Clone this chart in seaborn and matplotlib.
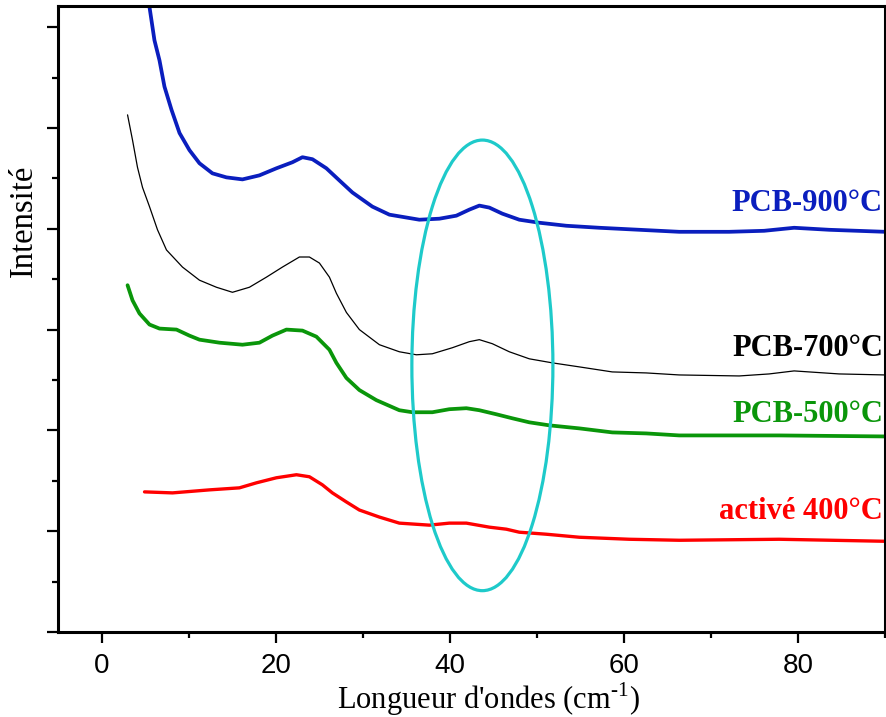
import numpy as np
import pandas as pd
import matplotlib
matplotlib.use("Agg")
import matplotlib.pyplot as plt
from matplotlib.patches import Ellipse
from matplotlib.ticker import MultipleLocator, NullFormatter
import seaborn as sns

# ---- data ----
x_900 = [5.21, 5.51, 6.08, 6.66, 7.23, 8.04, 8.96, 10.10, 11.25, 12.74, 14.35, 16.19,
         18.14, 20.09, 21.93, 23.08, 24.23, 25.83, 27.32, 28.82, 31.11, 33.07, 36.51,
         38.81, 40.76, 42.25, 43.40, 44.55, 46.04, 47.99, 50.29, 53.39, 57.18, 61.77,
         66.36, 72.10, 76.12, 79.56, 83.58, 90.0]
y_900 = [6.37, 6.20, 5.87, 5.67, 5.41, 5.18, 4.95, 4.78, 4.65, 4.55, 4.51, 4.49,
         4.53, 4.60, 4.66, 4.71, 4.69, 4.60, 4.48, 4.36, 4.22, 4.14, 4.09,
         4.10, 4.13, 4.19, 4.23, 4.21, 4.15, 4.09, 4.06, 4.03, 4.01, 3.99,
         3.97, 3.97, 3.98, 4.01, 3.99, 3.97]

x_700 = [2.99, 3.56, 4.13, 4.71, 5.51, 6.43, 7.46, 9.30, 11.25, 13.20, 15.04, 16.99,
         18.94, 20.78, 22.73, 23.88, 25.03, 26.18, 26.98, 28.13, 29.62, 31.92, 34.21,
         36.17, 38.00, 40.30, 42.25, 43.40, 44.89, 46.84, 49.14, 51.78, 54.88, 58.67,
         62.57, 66.36, 73.25, 76.69, 79.56, 84.73, 90.0]
y_700 = [5.13, 4.88, 4.61, 4.41, 4.22, 3.99, 3.79, 3.62, 3.49, 3.42, 3.37, 3.42,
         3.52, 3.62, 3.72, 3.72, 3.66, 3.52, 3.36, 3.17, 3.00, 2.85, 2.78,
         2.75, 2.76, 2.82, 2.88, 2.90, 2.86, 2.78, 2.71, 2.67, 2.63, 2.58,
         2.57, 2.55, 2.54, 2.56, 2.59, 2.56, 2.55]

x_500 = [2.99, 3.56, 4.36, 5.51, 6.66, 8.61, 10.10, 11.25, 13.55, 16.19, 18.14, 19.63,
         21.24, 23.08, 24.68, 26.18, 26.98, 28.13, 29.62, 31.57, 34.21, 35.71, 38.00,
         39.95, 41.91, 43.40, 45.35, 47.19, 49.14, 51.44, 54.88, 58.67, 62.57, 66.36,
         77.84, 90.0]
y_500 = [3.44, 3.29, 3.16, 3.05, 3.01, 3.00, 2.94, 2.90, 2.87, 2.85, 2.87, 2.94,
         3.00, 2.99, 2.93, 2.80, 2.67, 2.52, 2.40, 2.30, 2.20, 2.18, 2.18,
         2.21, 2.22, 2.20, 2.16, 2.12, 2.08, 2.05, 2.02, 1.98, 1.97, 1.95,
         1.95, 1.94]

x_400 = [4.94, 8.15, 12.40, 15.84, 17.80, 20.09, 22.39, 23.88, 25.37, 26.52, 28.13,
         29.62, 31.92, 34.21, 37.66, 39.95, 41.91, 44.55, 46.50, 47.99, 51.09, 54.88,
         60.62, 66.36, 77.84, 90.0]
y_400 = [1.39, 1.38, 1.41, 1.43, 1.48, 1.53, 1.56, 1.54, 1.46, 1.38, 1.29,
         1.21, 1.14, 1.08, 1.06, 1.08, 1.08, 1.04, 1.02, 0.99, 0.97, 0.94,
         0.92, 0.91, 0.92, 0.90]

series_names = ["PCB-900°C", "PCB-700°C", "PCB-500°C", "activé 400°C"]
series_x = [x_900, x_700, x_500, x_400]
series_y = [y_900, y_700, y_500, y_400]
series_colors = ["#0A1EBE", "#000000", "#0A960A", "#FF0000"]
series_lw = [2.7, 0.9, 2.7, 2.4]
label_y = [4.25, 2.81, 2.16, 1.20]

x_ticks = [0, 20, 40, 60, 80]

# ---- figure ----
sns.set_theme(style="white")
plt.rcParams["font.family"] = ["Liberation Serif", "DejaVu Serif"]
plt.rcParams["mathtext.fontset"] = "custom"
plt.rcParams["mathtext.rm"] = "Liberation Serif"
plt.rcParams["text.color"] = "black"
plt.rcParams["axes.labelcolor"] = "black"

fig = plt.figure(figsize=(8.86, 7.17), dpi=100)
ax = fig.add_axes([58 / 886, 1 - 632 / 717, 827 / 886, 626 / 717])

for name, xs, ys, c, lw in zip(series_names, series_x, series_y, series_colors, series_lw):
    df = pd.DataFrame({"x": xs, "y": ys})
    sns.lineplot(data=df, x="x", y="y", ax=ax, color=c, linewidth=lw,
                 estimator=None, sort=False, legend=False,
                 solid_joinstyle="round", solid_capstyle="round")

for name, c, ly in zip(series_names, series_colors, label_y):
    ax.text(89.75, ly, name, color=c, fontsize=22, fontweight="bold",
            ha="right", va="center", family=["Liberation Serif", "DejaVu Serif"])

ax.add_patch(Ellipse((43.75, 2.645), 16.2, 4.47, fill=False,
                     edgecolor="#1ECACA", linewidth=2.3, zorder=5))

ax.set_xlim(-5, 90)
ax.set_ylim(0, 6.21)
ax.set_xticks(x_ticks)
ax.xaxis.set_minor_locator(MultipleLocator(10))
ax.yaxis.set_major_locator(MultipleLocator(1))
ax.yaxis.set_minor_locator(MultipleLocator(0.5))
ax.yaxis.set_major_formatter(NullFormatter())

for sp in ax.spines.values():
    sp.set_linewidth(2.2)
    sp.set_color("black")

ax.tick_params(axis="both", which="major", direction="out", length=8, width=1.6,
               color="black", labelcolor="black",
               bottom=True, left=True, top=False, right=False)
ax.tick_params(axis="both", which="minor", direction="out", length=4.5, width=1.6,
               color="black", bottom=True, left=True, top=False, right=False)
ax.tick_params(axis="x", which="major", labelsize=20, pad=7)
for lab in ax.get_xticklabels():
    lab.set_family(["Liberation Sans", "DejaVu Sans"])

ax.set_xlabel("Longueur d'ondes (cm$^{\\text{-1}}$)", fontsize=22, color="black")
ax.xaxis.set_label_coords(0.52, -0.108)
ax.xaxis.label.set_va("center")

ax.set_ylabel("Intensité", fontsize=23.5, color="black")
ax.yaxis.set_label_coords(-0.041, 0.657)
ax.yaxis.label.set_va("center")
ax.yaxis.label.set_ha("center")

fig.savefig("out.png", dpi=100)
